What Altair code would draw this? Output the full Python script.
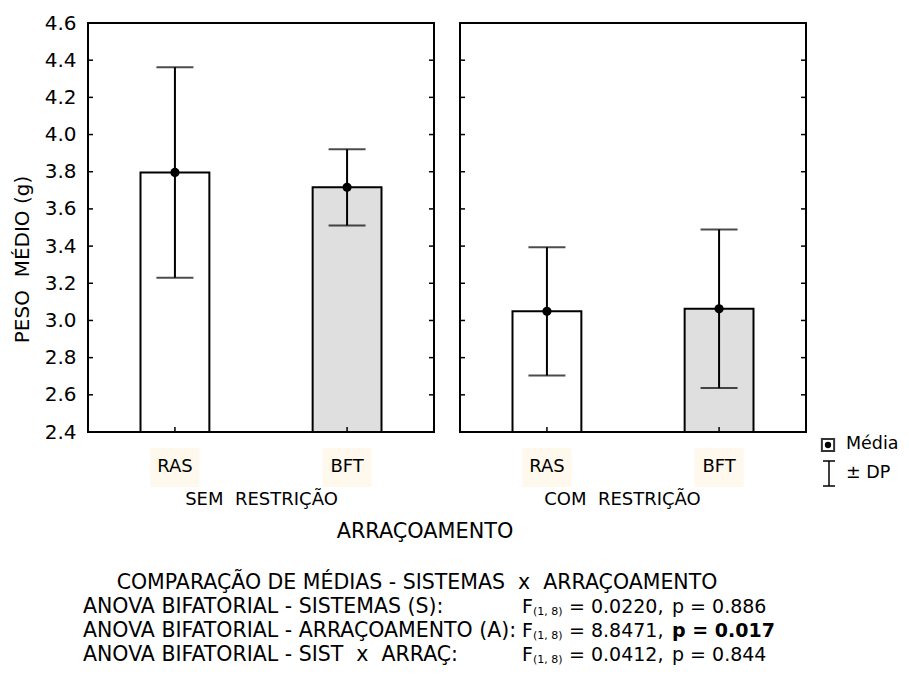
import altair as alt
import pandas as pd

# ---- data ----
sistemas = ["RAS", "BFT"]
arracoamento = ["SEM\u00a0\u00a0RESTRIÇÃO", "COM\u00a0\u00a0RESTRIÇÃO"]
media_sem = [3.796, 3.716]
dp_sem = [0.566, 0.205]
media_com = [3.049, 3.063]
dp_com = [0.345, 0.426]
cores = ["#ffffff", "#dfdfdf"]
y_ticks = [2.4, 2.6, 2.8, 3.0, 3.2, 3.4, 3.6, 3.8, 4.0, 4.2, 4.4, 4.6]
y_dominio = [2.4, 4.6]

titulo_y = "PESO\u00a0\u00a0MÉDIO (g)"
titulo_x = "ARRAÇOAMENTO"
texto_comparacao = "COMPARAÇÃO DE MÉDIAS - SISTEMAS\u00a0\u00a0x\u00a0\u00a0ARRAÇOAMENTO"
anova_rotulos = [
    "ANOVA BIFATORIAL - SISTEMAS (S):",
    "ANOVA BIFATORIAL - ARRAÇOAMENTO (A):",
    "ANOVA BIFATORIAL - SIST\u00a0\u00a0x\u00a0\u00a0ARRAÇ:",
]
anova_gl = "(1, 8)"
anova_f = ["0.0220", "8.8471", "0.0412"]
anova_p = ["0.886", "0.017", "0.844"]
anova_p_negrito = [False, True, False]
legenda = ["Média", "± DP"]

FONT = "DejaVu Sans"
W, H = 346, 409


def texto(s, x, y, size=20, align="left", weight="normal", baseline="middle"):
    return alt.Chart(pd.DataFrame({"t": [s]})).mark_text(
        align=align, baseline=baseline, fontSize=size, fontWeight=weight,
        color="black", font=FONT
    ).encode(text="t:N", x=alt.value(x), y=alt.value(y))


def painel(titulo, titulo_cx, medias, dps, esquerdo):
    df = pd.DataFrame({
        "sis": sistemas,
        "media": medias,
        "lo": [m - d for m, d in zip(medias, dps)],
        "hi": [m + d for m, d in zip(medias, dps)],
    })
    base = alt.Chart(df)
    xs = alt.Scale(domain=sistemas, paddingInner=0.6, paddingOuter=0.305)
    xax = alt.Axis(title=titulo, labelAngle=0, ticks=False, tickSize=0, domain=False,
                   labelPadding=34, labelBaseline="middle", labelFontSize=18,
                   labelFont=FONT, labelColor="black", zindex=2,
                   titleFontSize=18, titleFont=FONT, titleFontWeight="normal",
                   titleColor="black", titleX=titulo_cx, titleY=67,
                   titleBaseline="middle", titleAlign="center")
    ys = alt.Scale(domain=y_dominio, nice=False, zero=False)
    if esquerdo:
        yax = alt.Axis(values=y_ticks, format=".1f", ticks=False, tickSize=0,
                       domain=False, grid=False, labelPadding=12, labelFontSize=20,
                       labelOverlap=False, labelFlush=False,
                       labelFont=FONT, labelColor="black",
                       title=titulo_y, titleFontSize=20, titleFont=FONT,
                       titleFontWeight="normal", titleColor="black",
                       titleX=-66, titleY=236, titleAngle=270,
                       titleBaseline="middle", titleAlign="center")
    else:
        yax = None

    def X():
        return alt.X("sis:N", sort=sistemas, scale=xs, axis=xax)

    def Y(campo):
        return alt.Y(campo, scale=ys, axis=yax)

    bars = base.mark_bar(stroke="black", strokeWidth=2).encode(
        x=X(),
        y=Y("media:Q"),
        y2=alt.datum(y_dominio[0]),
        fill=alt.Fill("sis:N", scale=alt.Scale(domain=sistemas, range=cores), legend=None),
    )
    # faint highlight behind the category labels (as in the scanned original)
    realce = base.mark_bar(width=49, color="#fff8ec").encode(
        x=X(), y=alt.value(H + 16), y2=alt.value(H + 55))
    rule = base.mark_rule(color="black", strokeWidth=2).encode(
        x=X(), y=Y("lo:Q"), y2="hi:Q")
    cap_lo = base.mark_tick(color="black", size=37, thickness=2).encode(
        x=X(), y=Y("lo:Q"))
    cap_hi = base.mark_tick(color="black", size=37, thickness=2).encode(
        x=X(), y=Y("hi:Q"))
    dot = base.mark_circle(color="black", opacity=1, size=85).encode(
        x=X(), y=Y("media:Q"))

    tdf = pd.DataFrame({"v": y_ticks})
    tk_l = alt.Chart(tdf).mark_rule(color="black", strokeWidth=1.5).encode(
        y=Y("v:Q"), x=alt.value(0), x2=alt.value(5))
    tk_r = alt.Chart(tdf).mark_rule(color="black", strokeWidth=1.5).encode(
        y=Y("v:Q"), x=alt.value(W - 5), x2=alt.value(W))
    tk_x = base.mark_rule(color="black", strokeWidth=1.5).encode(
        x=X(), y=alt.value(H - 5), y2=alt.value(H))

    layers = [realce, bars, rule, cap_lo, cap_hi, dot, tk_l, tk_r, tk_x]

    if esquerdo:
        ox, oy = 87, 22  # absolute origin of this panel
        layers.append(texto(titulo_x, 424 - ox, 531 - oy, size=20.8, align="center"))
        layers.append(texto(texto_comparacao, 416 - ox, 582 - oy, size=20.5, align="center"))
        fx = 521 - ox
        for i, (rot, f, p, neg) in enumerate(zip(anova_rotulos, anova_f, anova_p, anova_p_negrito)):
            yy = 606 + 24 * i - oy
            layers.append(texto(rot, 82 - ox, yy, size=20.5))
            layers.append(texto("F", fx, yy, size=19))
            layers.append(texto(anova_gl, fx + 11, yy + 5, size=11))
            layers.append(texto("= " + f + ",", fx + 47, yy, size=19))
            layers.append(texto("p = " + p, fx + 150, yy, size=19,
                                weight="bold" if neg else "normal"))
        # legend
        sq = alt.Chart(pd.DataFrame({"k": [legenda[0]]})).mark_square(
            size=150, filled=True, fill="white", stroke="#333333", strokeWidth=2,
            opacity=1).encode(x=alt.value(827 - ox), y=alt.value(444 - oy))
        sd = alt.Chart(pd.DataFrame({"k": [legenda[0]]})).mark_circle(
            size=40, color="black", opacity=1).encode(x=alt.value(827 - ox), y=alt.value(444 - oy))
        ib = alt.Chart(pd.DataFrame({"k": [legenda[1]]}))
        ib_v = ib.mark_rule(color="black", strokeWidth=1.5).encode(
            x=alt.value(828 - ox), y=alt.value(460 - oy), y2=alt.value(485 - oy))
        ib_t = ib.mark_rule(color="black", strokeWidth=1.5).encode(
            x=alt.value(822 - ox), x2=alt.value(834 - ox), y=alt.value(460 - oy))
        ib_b = ib.mark_rule(color="black", strokeWidth=1.5).encode(
            x=alt.value(822 - ox), x2=alt.value(834 - ox), y=alt.value(485 - oy))
        layers += [sq, sd, ib_v, ib_t, ib_b,
                   texto(legenda[0], 845 - ox, 443 - oy, size=17.5),
                   texto(legenda[1], 845 - ox, 472 - oy, size=17.5)]

    return alt.layer(*layers).properties(width=W, height=H)


left = painel(arracoamento[0], 173, media_sem, dp_sem, True)
right = painel(arracoamento[1], 162, media_com, dp_com, False)

chart = alt.hconcat(left, right, spacing=26, bounds="flush").properties(
    padding={"left": 3, "top": 4, "right": 0, "bottom": 0}
).configure(font=FONT).configure_view(stroke="black", strokeWidth=2)

chart.save("out.html", embed_options={"renderer": "svg", "actions": False})
